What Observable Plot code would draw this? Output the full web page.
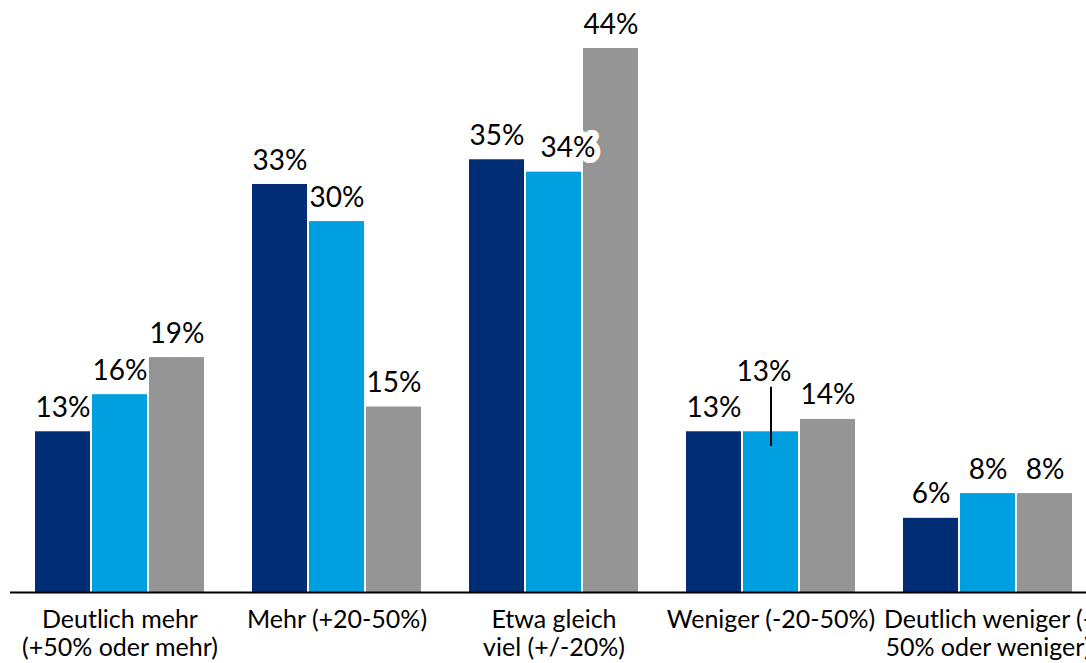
<!DOCTYPE html>
<html>
<head>
<meta charset="utf-8">
<script src="https://cdn.jsdelivr.net/npm/d3@7"></script>
<script src="https://cdn.jsdelivr.net/npm/@observablehq/plot@0.6"></script>
<style>
  html, body { margin: 0; padding: 0; background: #fff; overflow: hidden; }
  #chart { width: 1086px; height: 663px; overflow: hidden; }
  #chart svg { max-width: none !important; }
</style>
</head>
<body>
<div id="chart"></div>
<script>
const categories = [
  "Deutlich mehr\n(+50% oder mehr)",
  "Mehr (+20-50%)",
  "Etwa gleich\nviel (+/-20%)",
  "Weniger (-20-50%)",
  "Deutlich weniger (-\n50% oder weniger)"
];
const series = ["A", "B", "C"];
const seriesColors = ["#002D74", "#009FE0", "#959595"];
const valuesA = [13, 33, 35, 13, 6];
const valuesB = [16, 30, 34, 13, 8];
const valuesC = [19, 15, 44, 14, 8];

const seriesValues = [valuesA, valuesB, valuesC];
const font = "Lato, 'Open Sans', sans-serif";

// layout of the grouped bars: x band over categories, each band split into 3 slots
const W = 1100, ML = 10, MR = 4, PAD = 0.2129;
const band = d3.scaleBand().domain(categories).range([ML, W - MR]).paddingInner(PAD).paddingOuter(PAD / 2);
const slot = band.bandwidth() / series.length;

const marks = [];
series.forEach((s, j) => {
  const rows = categories.map((c, i) => ({category: c, series: s, value: seriesValues[j][i], i}));
  marks.push(Plot.barY(rows, {
    x: "category", y: "value", fill: seriesColors[j],
    insetLeft: j * slot + 1, insetRight: (series.length - 1 - j) * slot + 1
  }));
});
marks.push(Plot.ruleY([0], {stroke: "#000", strokeWidth: 2}));
series.forEach((s, j) => {
  const rows = categories.map((c, i) => ({category: c, series: s, value: seriesValues[j][i], i}));
  const dx = (j - (series.length - 1) / 2) * slot;
  const isLeader = d => d.i === 3 && d.series === "B";
  const isBoxed = d => d.i === 2 && d.series === "B";
  marks.push(Plot.text(rows.filter(d => !isLeader(d) && !isBoxed(d)), {
    x: "category", y: "value", text: d => d.value + "%", dx,
    lineAnchor: "bottom", dy: -15, fontSize: 28, fill: "#000"
  }));
  marks.push(Plot.text(rows.filter(isBoxed), {
    x: "category", y: "value", text: d => d.value + "%", dx: dx + 14,
    lineAnchor: "bottom", dy: -15, fontSize: 28, fill: "#000",
    stroke: "white", strokeWidth: 12, strokeLinejoin: "round", paintOrder: "stroke"
  }));
  const lead = rows.filter(isLeader);
  marks.push(Plot.text(lead, {
    x: "category", y: "value", text: d => d.value + "%", dx: dx - 7,
    lineAnchor: "bottom", dy: -51, fontSize: 28, fill: "#000"
  }));
  marks.push(Plot.ruleX(lead, {
    x: "category", y1: d => d.value - 1.2, y2: d => d.value + 3.6, dx,
    stroke: "#000", strokeWidth: 2
  }));
});
marks.push(Plot.text(categories, {
  x: d => d, frameAnchor: "bottom", lineAnchor: "top", dy: 16,
  text: d => d, fontSize: 25, lineHeight: 1.1, fill: "#000"
}));

const chart = Plot.plot({
  width: W,
  height: 663,
  marginLeft: ML,
  marginRight: MR,
  marginTop: 48,
  marginBottom: 71,
  style: {fontFamily: font, background: "white", maxWidth: "none"},
  x: {domain: categories, paddingInner: PAD, paddingOuter: PAD / 2, axis: null},
  y: {domain: [0, 44], axis: null},
  marks
});
document.getElementById("chart").appendChild(chart);
</script>
</body>
</html>
